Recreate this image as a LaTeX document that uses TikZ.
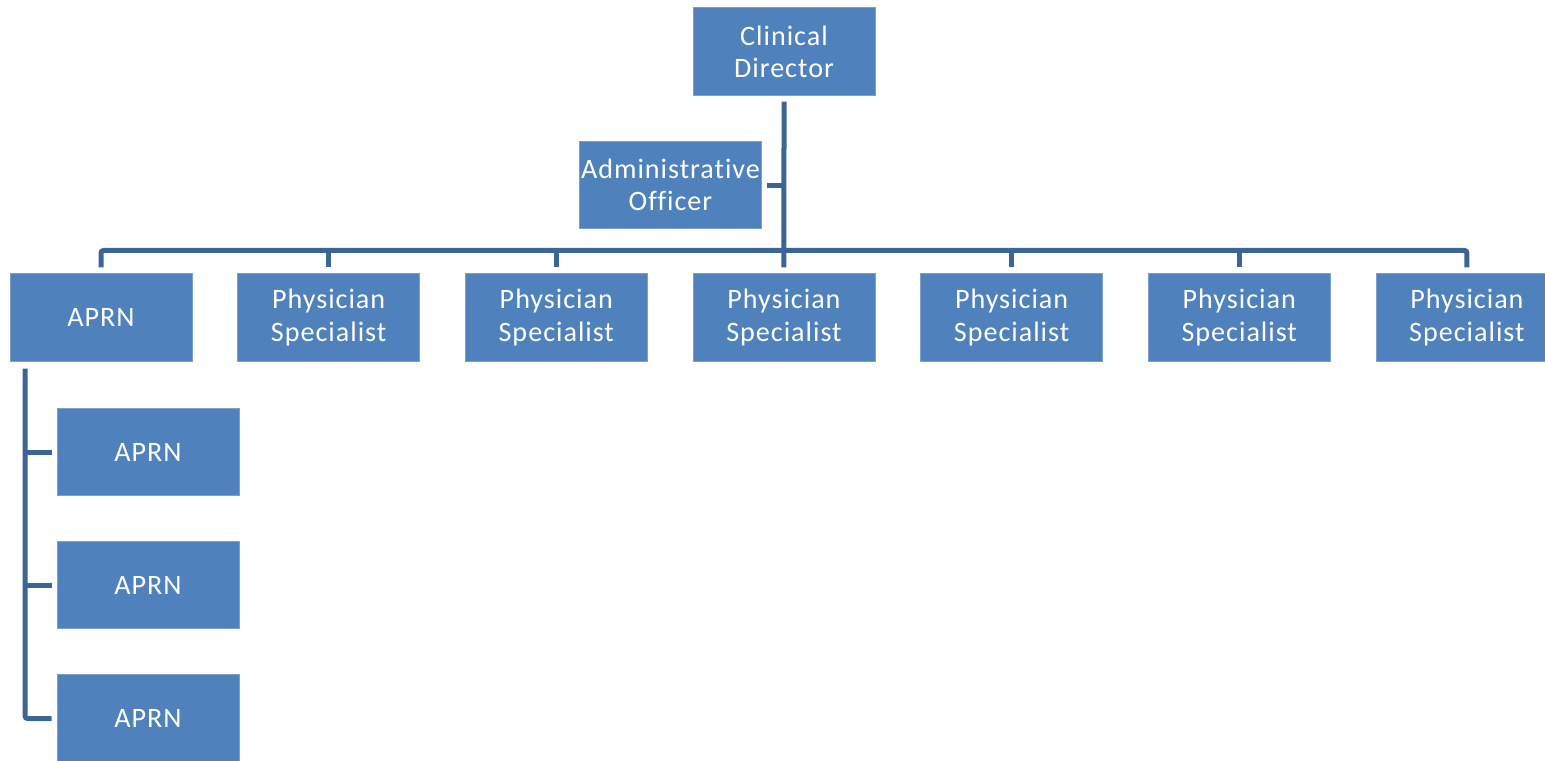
\documentclass[tikz,border=0pt]{standalone}
\usepackage{fontspec}
\setmainfont[Ligatures=NoCommon, LetterSpace=3.5]{Carlito}
\usepackage{tikz}
\usetikzlibrary{positioning}

\definecolor{boite}{HTML}{4F81BD}
\definecolor{trait}{HTML}{3D6497}

\tikzset{
  poste/.style={rectangle, fill=boite, draw=boite!75!white, line width=.4pt,
    minimum width=3.64cm, minimum height=1.75cm, inner sep=0pt,
    text=white, align=center, font=\fontsize{16}{18.3}\selectfont},
  lien/.style={draw=trait, line width=.1cm, rounded corners=1.5pt}
}

\begin{document}
\begin{tikzpicture}
    % Cadre
    \useasboundingbox (0,0) rectangle (30.9,-15.2) ;
    % Direction
    \node[poste] (cd) at (15.68,-1.03) {Clinical\\Director} ;
    \node[poste] (admin) at (13.41,-3.70) {Administrative\\Officer} ;
    % Ligne des postes
    \node[poste] (a0) at (2.02,-6.35) {APRN} ;
    \foreach \i in {1,...,6}
      \node[poste] (p\i) at (2.02+4.553*\i,-6.35) {Physician\\Specialist} ;
    % Sous-groupe APRN
    \node[poste] (a1) at (2.96,-9.04) {APRN} ;
    \node[poste] (a2) at (2.96,-11.70) {APRN} ;
    \node[poste] (a3) at (2.96,-14.37) {APRN} ;
    % Liens
    \draw[lien] ([yshift=-.12cm]cd.south) -- ([yshift=.12cm]p3.north) ;
    \draw[lien] ([xshift=.1cm]admin.east) -- (admin.east -| cd.south) ;
    \draw[lien] ([yshift=.12cm]a0.north) |- ([yshift=.46cm]p6.north)
      -- ([yshift=.12cm]p6.north) ;
    \foreach \i in {1,2,4,5}
      \draw[lien] ([yshift=.46cm]p\i.north) -- ([yshift=.12cm]p\i.north) ;
    \coordinate (tige) at ([xshift=-1.52cm,yshift=-.14cm]a0.south) ;
    \draw[lien] (tige) |- ([xshift=-.1cm]a3.west) ;
    \draw[lien] (a1.west -| tige) -- ([xshift=-.1cm]a1.west) ;
    \draw[lien] (a2.west -| tige) -- ([xshift=-.1cm]a2.west) ;
\end{tikzpicture}
\end{document}
